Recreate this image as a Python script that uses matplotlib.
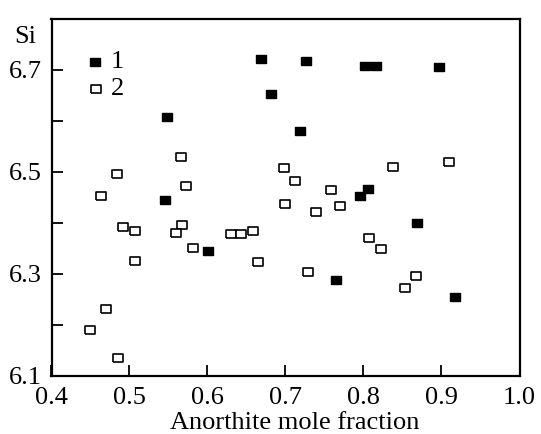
import matplotlib
matplotlib.use("Agg")
import matplotlib.pyplot as plt
import numpy as np

plt.rcParams["font.family"] = ["Liberation Serif", "DejaVu Serif"]

# Series 1 (filled squares)
an_1 = [0.548, 0.668, 0.726, 0.681, 0.719, 0.802, 0.816, 0.897,
        0.545, 0.601, 0.806, 0.796, 0.869, 0.917, 0.765]
si_1 = [6.608, 6.721, 6.717, 6.652, 6.580, 6.707, 6.707, 6.706,
        6.445, 6.345, 6.467, 6.452, 6.400, 6.254, 6.288]

# Series 2 (open squares)
an_2 = [0.484, 0.566, 0.573, 0.463, 0.492, 0.507, 0.567, 0.559,
        0.581, 0.507, 0.470, 0.450, 0.485, 0.630, 0.643, 0.658,
        0.665, 0.729, 0.699, 0.739, 0.758, 0.770, 0.712, 0.698,
        0.838, 0.910, 0.807, 0.822, 0.867, 0.853]
si_2 = [6.495, 6.529, 6.472, 6.453, 6.392, 6.383, 6.396, 6.381,
        6.350, 6.325, 6.231, 6.189, 6.134, 6.378, 6.379, 6.383,
        6.324, 6.303, 6.437, 6.421, 6.465, 6.434, 6.483, 6.508,
        6.509, 6.519, 6.370, 6.349, 6.296, 6.272]

series_labels = ["1", "2"]
x_ticks = [0.4, 0.5, 0.6, 0.7, 0.8, 0.9, 1.0]
x_ticklabels = ["0.4", "0.5", "0.6", "0.7", "0.8", "0.9", "1.0"]
y_ticks = [6.1, 6.2, 6.3, 6.4, 6.5, 6.6, 6.7]
y_ticklabels = ["6.1", "", "6.3", "", "6.5", "", "6.7"]

# flat rectangle marker, wider than tall
rect = [(-1, -0.72), (1, -0.72), (1, 0.72), (-1, 0.72), (-1, -0.72)]

W, H = 541, 434
fig = plt.figure(figsize=(W / 100, H / 100), dpi=100)
ax = fig.add_axes([51.5 / W, 1 - 375.7 / H, 468 / W, (375.7 - 19) / H])

ax.plot(an_1, si_1, linestyle="none", marker=rect, markersize=7.5,
        markerfacecolor="black", markeredgecolor="black", markeredgewidth=1.0)
ax.plot(an_2, si_2, linestyle="none", marker=rect, markersize=7.8,
        markerfacecolor="white", markeredgecolor="black", markeredgewidth=1.2)

ax.set_xlim(0.4, 1.0)
ax.set_ylim(6.1, 6.8)
ax.set_xticks(x_ticks)
ax.set_xticklabels(x_ticklabels)
ax.set_yticks(y_ticks)
ax.set_yticklabels(y_ticklabels)
ax.tick_params(direction="in", length=8, width=1.3, labelsize=19, color="black")
ax.tick_params(axis="x", pad=8)
ax.tick_params(axis="y", pad=7)
for s in ax.spines.values():
    s.set_linewidth(1.6)

fig.text(295 / W, 1 - 423 / H, "Anorthite mole fraction", fontsize=19,
         ha="center", va="center")
fig.text(25 / W, 1 - 37 / H, "Si", fontsize=19, ha="center", va="center")

# legend drawn as marker + label pairs
leg_y = [6.715, 6.662]
ax.plot([0.4555], [leg_y[0]], linestyle="none", marker=rect, markersize=7.5,
        markerfacecolor="black", markeredgecolor="black")
ax.plot([0.4565], [leg_y[1]], linestyle="none", marker=rect, markersize=7.8,
        markerfacecolor="white", markeredgecolor="black", markeredgewidth=1.2)
for yv, lab in zip(leg_y, series_labels):
    ax.text(0.476, yv, lab, fontsize=19, ha="left", va="center")

fig.savefig("out.png", dpi=100)
